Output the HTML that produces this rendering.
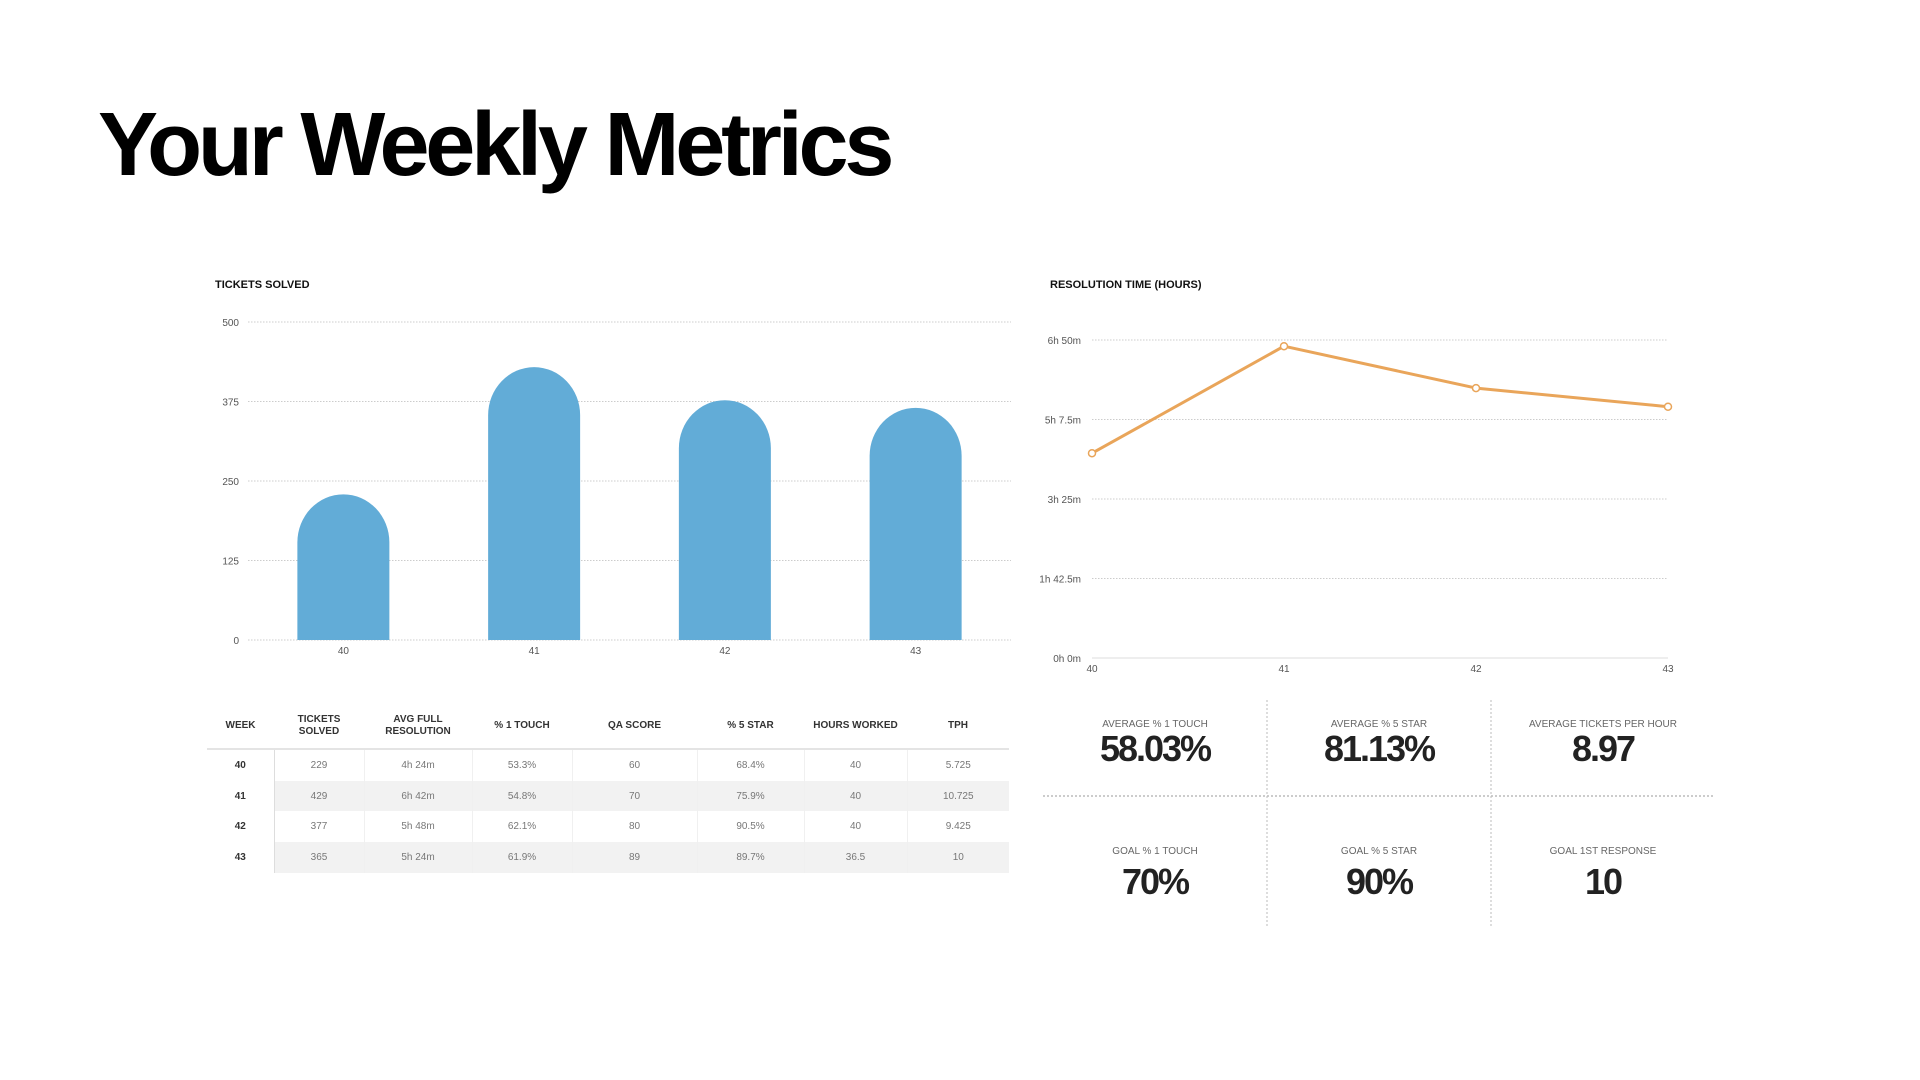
<!DOCTYPE html>
<html><head><meta charset="utf-8"><style>
body{margin:0;width:1920px;height:1080px;background:#fff;font-family:"Liberation Sans",Arial,sans-serif;position:relative;overflow:hidden}
#title{position:absolute;left:98px;top:90px;font-size:90px;font-weight:bold;letter-spacing:-4.2px;color:#000;line-height:110px;margin:0}
svg{position:absolute;left:0;top:0}
table{position:absolute;left:207px;top:703px;border-collapse:collapse;table-layout:fixed;width:802px;font-size:10px}
th{height:45px;font-weight:bold;color:#333;border-bottom:2px solid #e4e4e4;line-height:12px;padding:0}
td{height:30.7px;padding:0;text-align:center;color:#777;border-left:1px solid #f0f0f0}
td.wk{font-weight:bold;color:#333;border-left:none;border-right:1px solid #ddd}
tr.g td:not(.wk){background:#f2f2f2}
.kl{position:absolute;width:224px;text-align:center;font-size:10px;color:#666;line-height:12px}
.kv{position:absolute;width:224px;text-align:center;font-size:36px;font-weight:bold;color:#222;letter-spacing:-2px;line-height:40px}
</style></head><body>
<h1 id="title">Your Weekly Metrics</h1>
<svg id="charts" width="1920" height="1080"></svg>
<table>
<colgroup><col style="width:67px"><col style="width:90px"><col style="width:108px"><col style="width:100px"><col style="width:125px"><col style="width:107px"><col style="width:103px"><col style="width:102px"></colgroup>
<tr><th>WEEK</th><th>TICKETS<br>SOLVED</th><th>AVG FULL<br>RESOLUTION</th><th>% 1 TOUCH</th><th>QA SCORE</th><th>% 5 STAR</th><th>HOURS WORKED</th><th>TPH</th></tr>
<tr><td class="wk">40</td><td>229</td><td>4h 24m</td><td>53.3%</td><td>60</td><td>68.4%</td><td>40</td><td>5.725</td></tr>
<tr class="g"><td class="wk">41</td><td>429</td><td>6h 42m</td><td>54.8%</td><td>70</td><td>75.9%</td><td>40</td><td>10.725</td></tr>
<tr><td class="wk">42</td><td>377</td><td>5h 48m</td><td>62.1%</td><td>80</td><td>90.5%</td><td>40</td><td>9.425</td></tr>
<tr class="g"><td class="wk">43</td><td>365</td><td>5h 24m</td><td>61.9%</td><td>89</td><td>89.7%</td><td>36.5</td><td>10</td></tr>
</table>
<div class="kl" style="left:1043px;top:719px">AVERAGE % 1 TOUCH</div>
<div class="kv" style="left:1043px;top:729px">58.03%</div>
<div class="kl" style="left:1267px;top:719px">AVERAGE % 5 STAR</div>
<div class="kv" style="left:1267px;top:729px">81.13%</div>
<div class="kl" style="left:1491px;top:719px">AVERAGE TICKETS PER HOUR</div>
<div class="kv" style="left:1491px;top:729px">8.97</div>
<div class="kl" style="left:1043px;top:846px">GOAL % 1 TOUCH</div>
<div class="kv" style="left:1043px;top:862px">70%</div>
<div class="kl" style="left:1267px;top:846px">GOAL % 5 STAR</div>
<div class="kv" style="left:1267px;top:862px">90%</div>
<div class="kl" style="left:1491px;top:846px">GOAL 1ST RESPONSE</div>
<div class="kv" style="left:1491px;top:862px">10</div>
<script>
const barWeeks=['40','41','42','43'];
const ticketsSolved=[229,429,377,365];
const barTicks=[0,125,250,375,500];
const lineWeeks=['40','41','42','43'];
const resolutionMinutes=[264,402,348,324];
const lineTicks=[0,102.5,205,307.5,410];
const lineTickLabels=['0h 0m','1h 42.5m','3h 25m','5h 7.5m','6h 50m'];

const NS='http://www.w3.org/2000/svg';
const svg=document.getElementById('charts');
function mk(tag,attrs,parent){const e=document.createElementNS(NS,tag);for(const k in attrs)e.setAttribute(k,attrs[k]);(parent||svg).appendChild(e);return e;}
function txt(x,y,s,attrs){const t=mk('text',Object.assign({x:x,y:y,'font-family':'Liberation Sans, Arial, sans-serif'},attrs));t.textContent=s;return t;}

// Bar chart
const bx0=248,bx1=1011,by0=640,by1=322,bmax=500;
const bY=v=>by0-(v/bmax)*(by0-by1);
const band=(bx1-bx0)/barWeeks.length;
const bX=i=>bx0+band*(i+0.5);
let t=txt(215,288,'TICKETS SOLVED',{'font-size':11,'font-weight':'bold',fill:'#111'});


barTicks.forEach(v=>{
  const l=mk('line',{x1:bx0,x2:bx1,y1:bY(v),y2:bY(v),stroke:'#ccc','stroke-dasharray':'1.5,1.5'});
  
  
  const tl=txt(239,bY(v)+4,String(v),{'font-size':10,fill:'#555','text-anchor':'end'});
  
  
});
ticketsSolved.forEach((v,i)=>{
  const cx=bX(i),rx=46,ry=48,top=bY(v),bot=bY(0);
  const d=`M${cx-rx},${bot} L${cx-rx},${top+ry} A${rx},${ry} 0 0 1 ${cx+rx},${top+ry} L${cx+rx},${bot} Z`;
  const p=mk('path',{d:d,fill:'#62acd7'});
  
  
  const xl=txt(cx,bY(0)+14,barWeeks[i],{'font-size':10,fill:'#555','text-anchor':'middle'});
  
  
});

// Line chart
const lx0=1092,lx1=1668,ly0=658,ly1=340,lmax=410;
const lY=v=>ly0-(v/lmax)*(ly0-ly1);
const lX=i=>lx0+(lx1-lx0)*i/(lineWeeks.length-1);
t=txt(1050,288,'RESOLUTION TIME (HOURS)',{'font-size':11,'font-weight':'bold',fill:'#111'});


lineTicks.forEach((v,i)=>{
  const l=mk('line',{x1:lx0,x2:lx1,y1:lY(v),y2:lY(v),stroke:i===0?'#ddd':'#ccc','stroke-dasharray':i===0?'':'1.5,1.5'});
  
  
  const tl=txt(1081,lY(v)+4,lineTickLabels[i],{'font-size':10,fill:'#555','text-anchor':'end'});
  
  
});
lineWeeks.forEach((w,i)=>{
  const xl=txt(lX(i),lY(0)+14,w,{'font-size':10,fill:'#555','text-anchor':'middle'});
  
  
});
const pl=mk('polyline',{points:resolutionMinutes.map((v,i)=>lX(i)+','+lY(v)).join(' '),fill:'none',stroke:'#e9a55a','stroke-width':3,'stroke-linejoin':'round'});


resolutionMinutes.forEach((v,i)=>{
  const c=mk('circle',{cx:lX(i),cy:lY(v),r:3.5,fill:'#fff',stroke:'#e9a55a','stroke-width':1.5});
  
  
});

// KPI grid lines
const g1=mk('line',{x1:1043,x2:1714,y1:796,y2:796,stroke:'#999','stroke-dasharray':'2,2'});


[1267,1491].forEach(x=>{
  const v=mk('line',{x1:x,x2:x,y1:700,y2:926,stroke:'#bbb','stroke-dasharray':'2,2'});
  
  
});
</script>
</body></html>
